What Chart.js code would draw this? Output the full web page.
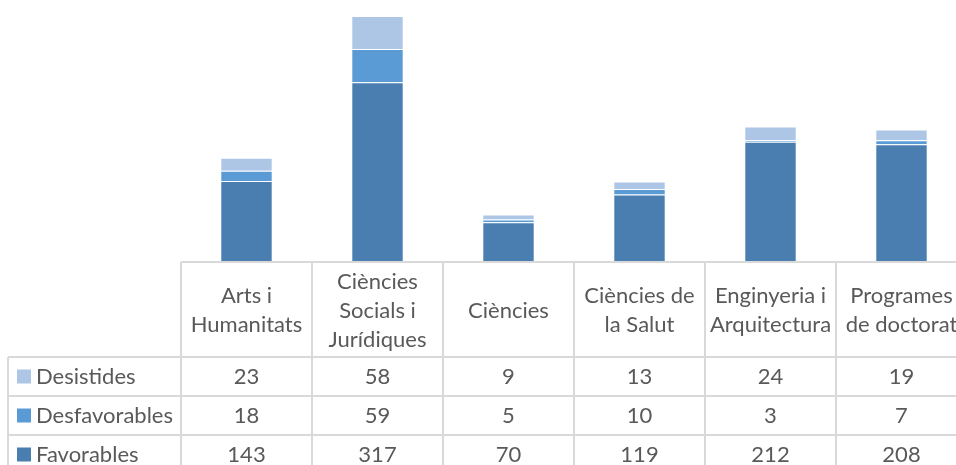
<!DOCTYPE html>
<html>
<head>
<meta charset="utf-8">
<script src="https://cdn.jsdelivr.net/npm/chart.js@4/dist/chart.umd.min.js"></script>
<style>
  html, body { margin: 0; padding: 0; background: #fff; overflow: hidden; }
  #wrap { width: 956px; height: 465px; overflow: hidden; }
  #chart { display: block; }
</style>
</head>
<body>
<div id="wrap"><canvas id="chart" width="980" height="465"></canvas></div>
<script>
// Categories (header lines of the data table)
const categories = [
    ['Arts i', 'Humanitats'],
    ['Ciències', 'Socials i', 'Jurídiques'],
    ['Ciències'],
    ['Ciències de', 'la Salut'],
    ['Enginyeria i', 'Arquitectura'],
    ['Programes', 'de doctorat']
];
const favorables = [143, 317, 70, 119, 212, 208];
const desfavorables = [18, 59, 5, 10, 3, 7];
const desistides = [23, 58, 9, 13, 24, 19];

const FONT = 'Lato, "Open Sans", sans-serif';
const TEXT = '#595959';
const GRID = '#D9D9D9';

// Rows of the table, top to bottom
const tableRows = [
    { label: 'Desistides', color: '#ADC6E5', values: desistides },
    { label: 'Desfavorables', color: '#5B9BD5', values: desfavorables },
    { label: 'Favorables', color: '#4A7EB0', values: favorables }
];

// Draws the Excel style data table under the bars
const dataTable = {
    id: 'dataTable',
    afterDraw(chart) {
        const ctx = chart.ctx;
        const x = chart.scales.x;
        const area = chart.chartArea;
        const n = categories.length;
        const colW = (area.right - area.left) / n;
        const top = area.bottom;
        const headerBottom = top + 95;
        const rowH = 39;
        const tableLeft = 8;
        const bottom = chart.height + 5;

        ctx.save();
        ctx.strokeStyle = GRID;
        ctx.lineWidth = 2;
        ctx.beginPath();
        // axis line / top of header
        ctx.moveTo(area.left, top); ctx.lineTo(area.right, top);
        // row lines
        for (let r = 0; r < tableRows.length; r++) {
            const y = headerBottom + r * rowH;
            ctx.moveTo(tableLeft, y); ctx.lineTo(area.right, y);
        }
        // vertical lines
        ctx.moveTo(tableLeft, headerBottom); ctx.lineTo(tableLeft, bottom);
        for (let i = 0; i <= n; i++) {
            const xx = area.left + i * colW;
            ctx.moveTo(xx, top); ctx.lineTo(xx, bottom);
        }
        ctx.stroke();

        ctx.fillStyle = TEXT;
        ctx.font = '22px ' + FONT;
        ctx.textAlign = 'center';
        ctx.textBaseline = 'middle';
        // header
        const lh = 29;
        categories.forEach((lines, i) => {
            const cx = x.getPixelForValue(i);
            const cy = (top + headerBottom) / 2 + 1;
            lines.forEach((t, k) => {
                ctx.fillText(t, cx, cy + (k - (lines.length - 1) / 2) * lh);
            });
        });
        // rows
        tableRows.forEach((row, r) => {
            const cy = headerBottom + r * rowH + rowH / 2;
            ctx.fillStyle = row.color;
            ctx.fillRect(17, cy - 7, 14, 14);
            ctx.fillStyle = TEXT;
            ctx.textAlign = 'left';
            ctx.fillText(row.label, 36, cy);
            ctx.textAlign = 'center';
            row.values.forEach((v, i) => {
                ctx.fillText(String(v), x.getPixelForValue(i), cy);
            });
        });
        ctx.restore();
    }
};

new Chart(document.getElementById('chart'), {
    type: 'bar',
    data: {
        labels: categories.map(c => c.join(' ')),
        datasets: [
            { label: 'Favorables', data: favorables, backgroundColor: '#4A7EB0' },
            { label: 'Desfavorables', data: desfavorables, backgroundColor: '#5B9BD5' },
            { label: 'Desistides', data: desistides, backgroundColor: '#ADC6E5' }
        ]
    },
    options: {
        responsive: false,
        animation: false,
        layout: { padding: { left: 181, right: 13, top: 7, bottom: 203 } },
        datasets: {
            bar: {
                categoryPercentage: 1,
                barPercentage: 0.4,
                borderWidth: 1,
                borderColor: 'rgba(255,255,255,0.15)'
            }
        },
        plugins: {
            legend: { display: false },
            tooltip: { enabled: false }
        },
        scales: {
            x: {
                stacked: true,
                display: false
            },
            y: {
                stacked: true,
                display: false,
                min: 0,
                max: 450
            }
        }
    },
    plugins: [dataTable]
});
</script>
</body>
</html>
